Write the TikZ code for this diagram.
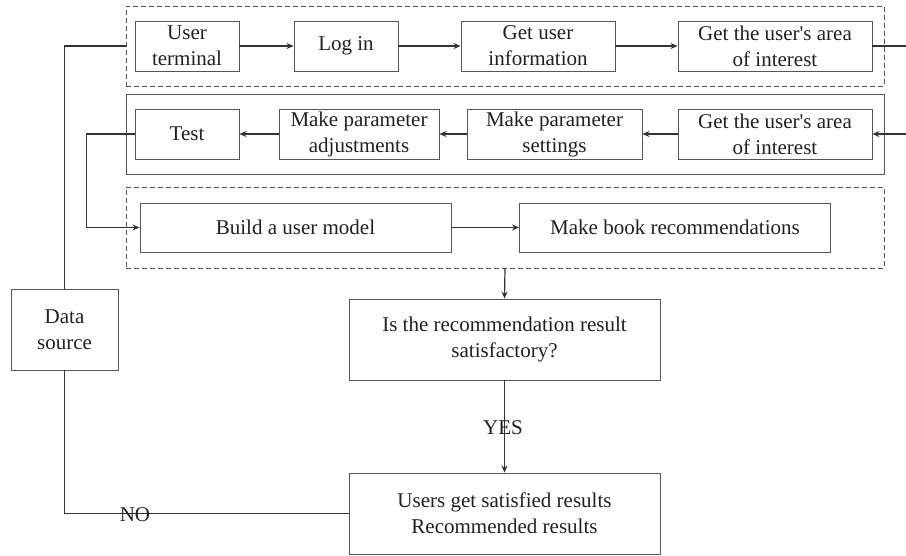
\documentclass[tikz,border=0pt]{standalone}
\usepackage{fontspec}
\setmainfont{Liberation Serif}
\usetikzlibrary{arrows.meta}
\definecolor{ink}{HTML}{231F20}
\definecolor{edge}{HTML}{555555}
\definecolor{wire}{HTML}{333333}
\tikzset{
  box/.style={draw=edge, line width=0.9pt, rectangle, align=center, inner sep=0pt,
    text=ink, font=\fontsize{21}{26}\selectfont},
  group/.style={draw=edge, line width=0.9pt, rectangle, inner sep=0pt},
  dashgroup/.style={group, dash pattern=on 5pt off 3pt},
  wireline/.style={draw=wire, line width=1.2pt},
  arr/.style={wireline, -{Stealth[length=7pt,width=6pt]}},
  tag/.style={text=ink, font=\fontsize{21}{26}\selectfont, inner sep=0pt}
}
\newcommand{\usersq}{user\textquotesingle s}
\begin{document}
\begin{tikzpicture}[x=1pt, y=-1pt]
\useasboundingbox (0,0) rectangle (906,556);

% stage containers
\node[dashgroup, minimum width=758pt, minimum height=80pt] (g1) at (505,46) {};
\node[group, minimum width=758pt, minimum height=80pt] (g2) at (505,134) {};
\node[dashgroup, minimum width=758pt, minimum height=81pt] (g3) at (505,227.5) {};

% first row
\node[box, minimum width=104pt, minimum height=50pt] (ut) at (187,46) {User\\terminal};
\node[box, minimum width=104pt, minimum height=50pt] (login) at (346,46) {Log in};
\node[box, minimum width=154pt, minimum height=50pt] (info) at (538,46) {Get user\\information};
\node[box, minimum width=194pt, minimum height=50pt] (area1) at (775,46) {Get the \usersq{} area\\of interest};

% second row
\node[box, minimum width=104pt, minimum height=50pt] (test) at (187,134) {Test};
\node[box, minimum width=160pt, minimum height=50pt] (adjust) at (359,134) {Make parameter\\adjustments};
\node[box, minimum width=175pt, minimum height=50pt] (settings) at (554.5,134) {Make parameter\\settings};
\node[box, minimum width=194pt, minimum height=50pt] (area2) at (775,134) {Get the \usersq{} area\\of interest};

% third row
\node[box, minimum width=311pt, minimum height=49pt] (build) at (295.5,227.5) {Build a user model};
\node[box, minimum width=311pt, minimum height=49pt] (book) at (675,227.5) {Make book recommendations};

% decision and outcome
\node[box, minimum width=311pt, minimum height=81pt] (dec) at (504.5,339.5) {Is the recommendation result\\satisfactory?};
\node[box, minimum width=311pt, minimum height=81pt] (res) at (504.5,513.5) {Users get satisfied results\\Recommended results};
\node[box, minimum width=107pt, minimum height=81pt] (ds) at (64.5,329.5) {Data\\source};

% ends leaving the right margin
\coordinate (r1) at (906,46);
\coordinate (r2) at (906,134);

% connectors
\draw[arr] (ut) -- (login);
\draw[arr] (login) -- (info);
\draw[arr] (info) -- (area1);
\draw[wireline] (area1) -- (r1);
\draw[arr] (r2) -- (area2);
\draw[arr] (area2) -- (settings);
\draw[arr] (settings) -- (adjust);
\draw[arr] (adjust) -- (test);
\draw[arr] (test.west) -- ++(-48,0) |- (build.west);
\draw[arr] (build) -- (book);
\draw[arr] (g3.south) -- (dec.north);
\draw[arr] (dec.south) -- (res.north);
\draw[wireline] (res.west) -| (ds.south);
\draw[wireline] (ds.north) |- (g1.west);

% branch labels
\node[tag] (yes) at (503,428) {YES};
\node[tag] (no) at (135,515) {NO};
\end{tikzpicture}
\end{document}
